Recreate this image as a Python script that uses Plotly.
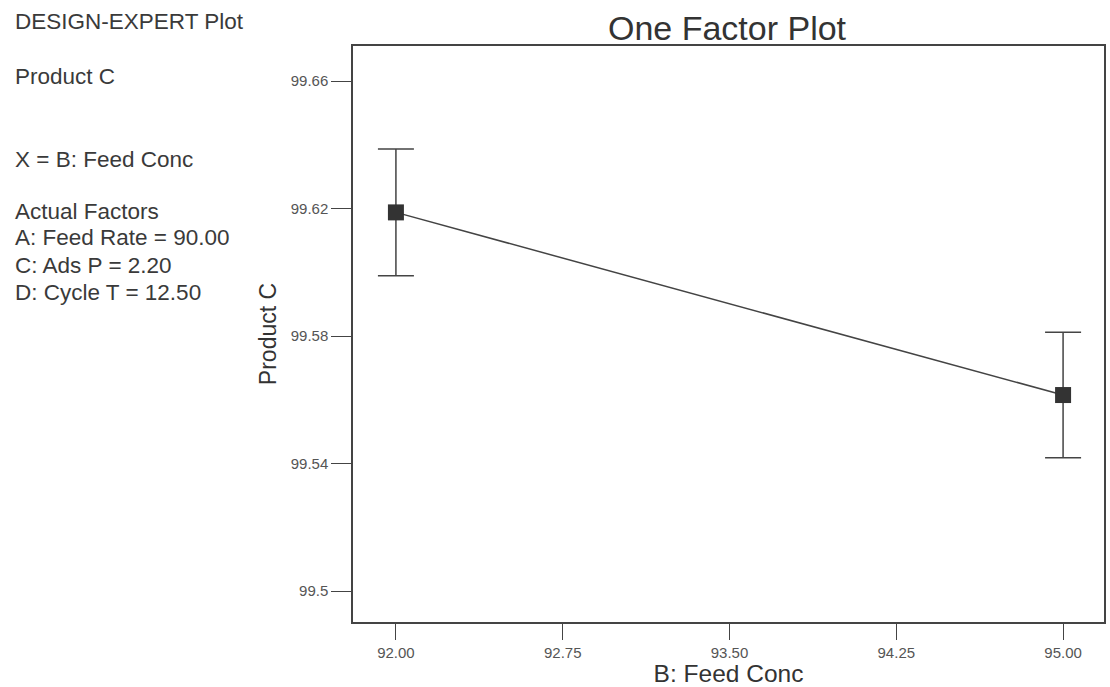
import plotly.graph_objects as go

# Data
feed_conc = [92.00, 95.00]
product_c = [99.6188, 99.5615]
error_half = [0.0199, 0.0197]

x_tick_vals = [92.00, 92.75, 93.50, 94.25, 95.00]
x_tick_text = ["92.00", "92.75", "93.50", "94.25", "95.00"]
y_tick_vals = [99.50, 99.54, 99.58, 99.62, 99.66]
y_tick_text = ["99.5", "99.54", "99.58", "99.62", "99.66"]

info_lines = ["DESIGN-EXPERT Plot", "Product C", "X = B: Feed Conc",
              "Actual Factors", "A: Feed Rate = 90.00", "C: Ads P = 2.20",
              "D: Cycle T = 12.50"]
info_px_y = [22, 77, 159, 211, 237, 265, 292]

FONT = "Liberation Sans, Arial, sans-serif"
W, H = 1110, 687
L, R, T, B = 353, 4, 46, 65
ph = H - T - B

fig = go.Figure()
fig.add_trace(go.Scatter(
    x=feed_conc, y=product_c, mode="lines+markers",
    line=dict(color="#444444", width=1.5),
    marker=dict(symbol="square", size=16, color="#333333"),
    error_y=dict(type="data", array=error_half, visible=True,
                 color="#444444", thickness=1.5, width=18),
    showlegend=False, hoverinfo="x+y",
))

for txt, py in zip(info_lines, info_px_y):
    fig.add_annotation(
        text=txt, xref="paper", yref="paper",
        x=-(L - 12) / (W - L - R), y=(H - B - py) / ph,
        xanchor="left", yanchor="middle", showarrow=False,
        font=dict(family=FONT, size=22.5, color="#3a3a3a"), align="left",
    )

fig.update_layout(
    width=W, height=H,
    margin=dict(l=L, r=R, t=T, b=B, pad=0),
    paper_bgcolor="white", plot_bgcolor="white",
    title=dict(text="One Factor Plot", x=(727) / W, xanchor="center",
               y=1 - 28 / H, yanchor="middle",
               font=dict(family=FONT, size=34, color="#333333")),
    xaxis=dict(
        range=[91.807, 95.184], tickvals=x_tick_vals, ticktext=x_tick_text,
        ticks="outside", ticklen=16, tickwidth=1.2, tickcolor="#444444",
        showline=True, linecolor="#444444", linewidth=1.5, mirror=True,
        showgrid=False, zeroline=False,
        tickfont=dict(family=FONT, size=15, color="#555555"),
        title=dict(text="B: Feed Conc", standoff=4,
                   font=dict(family=FONT, size=24.5, color="#333333")),
    ),
    yaxis=dict(
        range=[99.4903, 99.671], tickvals=y_tick_vals, ticktext=y_tick_text,
        ticks="outside", ticklen=20, tickwidth=1.2, tickcolor="#444444",
        showline=True, linecolor="#444444", linewidth=1.5, mirror=True,
        showgrid=False, zeroline=False,
        tickfont=dict(family=FONT, size=15, color="#555555"),
        title=dict(text="Product C", standoff=8,
                   font=dict(family=FONT, size=23, color="#333333")),
    ),
)

fig.write_html("out.html")
